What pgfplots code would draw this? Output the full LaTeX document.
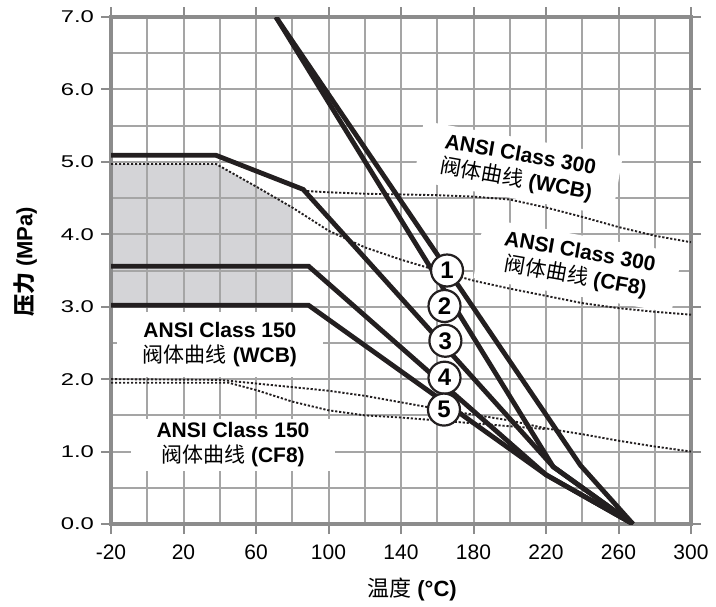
\documentclass[border=0pt]{standalone}
\usepackage{fontspec}
\setmainfont{Liberation Sans}
\newfontfamily\cjk{Noto Sans CJK SC}
\newfontfamily\ytfont[FakeStretch=1.4]{Liberation Sans}
\usepackage{pgfplots}
\pgfplotsset{compat=1.18}
\definecolor{gridgray}{RGB}{165,165,165}
\definecolor{framegray}{RGB}{140,140,140}
\definecolor{shade}{RGB}{212,212,215}
\definecolor{ink}{RGB}{35,31,32}
\begin{document}
\begin{tikzpicture}
\begin{axis}[
  at={(0,0)}, anchor=south west,
  scale only axis, width=290pt, height=253.5pt,
  set layers,
  xmin=-20, xmax=300, ymin=0, ymax=7,
  xtick={-20,20,60,100,140,180,220,260,300},
  xticklabels={-20,20,60,100,140,180,220,260,300},
  minor xtick={0,40,80,120,160,200,240,280},
  ytick={0,1,2,3,4,5,6,7},
  yticklabels={0.0,1.0,2.0,3.0,4.0,5.0,6.0,7.0},
  minor ytick={0.5,1.5,2.5,3.5,4.5,5.5,6.5},
  grid=both,
  grid style={draw=gridgray, line width=1pt},
  major grid style={draw=gridgray, line width=1pt},
  minor grid style={draw=gridgray, line width=1pt},
  axis line style={draw=framegray, line width=1.6pt},
  tick align=outside,
  major tick length=5pt, minor tick length=0pt,
  major tick style={draw=framegray, line width=1pt},
  xticklabel style={font=\fontsize{10.5}{12}\selectfont, yshift=-2pt},
  yticklabel style={font=\ytfont\fontsize{8.5}{10}\selectfont},
  xlabel={{\cjk 温度} \bfseries(°C)},
  xlabel style={at={(axis description cs:0.519,-0.130)}, anchor=center,
    font=\fontsize{11}{13}\selectfont},
  ylabel={{\cjk\bfseries 压力} \bfseries(MPa)},
  ylabel style={at={(axis description cs:-0.148,0.517)}, anchor=center,
    rotate=0, font=\fontsize{11}{13}\selectfont},
]
% shaded region
\addplot[on layer=axis background, fill=shade, draw=none] coordinates {
  (-20,3.02) (-20,4.97) (38,4.97) (60,4.66) (80,4.37) (80,3.02)} -- cycle;

% label boxes
\node[rotate=-10, fill=white, align=center, inner xsep=12pt, inner ysep=4pt,
  font=\fontsize{10.5}{12.5}\selectfont] at (axis cs:204.6,4.91)
  {\bfseries ANSI Class 300\\{\cjk 阀体曲线} \bfseries(WCB)};
\node[rotate=-10, fill=white, align=center, inner xsep=12pt, inner ysep=4pt,
  font=\fontsize{10.5}{12.5}\selectfont] at (axis cs:237.5,3.57)
  {\bfseries ANSI Class 300\\{\cjk 阀体曲线} \bfseries(CF8)};
\node[fill=white, align=center, inner xsep=13pt, inner ysep=5pt,
  font=\fontsize{10.5}{12.5}\selectfont] at (axis cs:40.1,2.48)
  {\bfseries ANSI Class 150\\{\cjk 阀体曲线} \bfseries(WCB)};
\node[fill=white, align=center, inner xsep=13pt, inner ysep=2pt,
  font=\fontsize{10.5}{12.5}\selectfont] at (axis cs:47.3,1.09)
  {\bfseries ANSI Class 150\\{\cjk 阀体曲线} \bfseries(CF8)};

% ANSI dotted curves
\addplot[ink, line width=0.95pt, dash pattern=on 1.1pt off 0.9pt] coordinates {
  (86,4.60) (100,4.58) (120,4.56) (140,4.55) (160,4.54) (180,4.52) (200,4.48)
  (220,4.37) (240,4.24) (260,4.10) (280,3.98) (300,3.89)};
\addplot[ink, line width=0.95pt, dash pattern=on 1.1pt off 0.9pt] coordinates {
  (-20,4.97) (38,4.97) (60,4.66) (80,4.37) (100,4.05) (120,3.82) (140,3.65)
  (160,3.50) (180,3.36) (200,3.25) (220,3.15) (240,3.05) (260,2.98) (280,2.93) (300,2.89)};
\addplot[ink, line width=0.95pt, dash pattern=on 1.1pt off 0.9pt] coordinates {
  (-20,2.00) (40,1.99) (60,1.94) (80,1.89) (100,1.84) (120,1.77) (140,1.68)
  (160,1.59) (180,1.51) (200,1.43) (220,1.32) (240,1.24) (260,1.15) (280,1.07) (300,1.00)};
\addplot[ink, line width=0.95pt, dash pattern=on 1.1pt off 0.9pt] coordinates {
  (-20,1.95) (45,1.95) (60,1.85) (80,1.69) (100,1.57) (120,1.50) (140,1.47)
  (160,1.43) (180,1.39) (200,1.35) (220,1.31)};

% thick curves
\addplot[ink, line width=2.4pt] coordinates {(71,7.0) (239,0.81) (268,0)};
\addplot[ink, line width=2.4pt] coordinates {(71,7.0) (224,0.79) (268,0)};
\addplot[ink, line width=2.4pt] coordinates {(-20,5.09) (38,5.09) (86,4.62) (224,0.79) (268,0)};
\addplot[ink, line width=2.4pt] coordinates {(-20,3.56) (89,3.56) (220,0.68) (268,0)};
\addplot[ink, line width=2.4pt] coordinates {(-20,3.02) (89,3.02) (220,0.68) (268,0)};

% numbered circles
\tikzset{num/.style={circle, draw=ink, line width=1.1pt, fill=white, inner sep=0pt,
  minimum size=16pt, font=\bfseries\fontsize{12}{12}\selectfont}}
\node[num] at (axis cs:165.4,3.50) {1};
\node[num] at (axis cs:164.0,3.01) {2};
\node[num] at (axis cs:164.5,2.53) {3};
\node[num] at (axis cs:164.0,2.02) {4};
\node[num] at (axis cs:163.7,1.58) {5};
\end{axis}
\pgfresetboundingbox
\path[use as bounding box] (-55.5pt,-41pt) rectangle (302.5pt,262pt);
\end{tikzpicture}
\end{document}
